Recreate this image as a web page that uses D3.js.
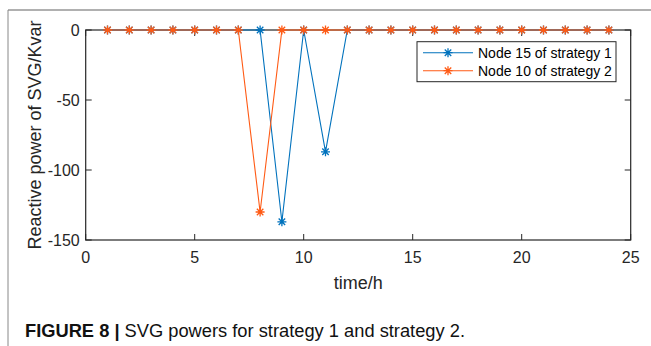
<!DOCTYPE html>
<html>
<head>
<meta charset="UTF-8">
<style>
    body { margin: 0; background: #fff; }
    svg { display: block; font-family: "Liberation Sans", Arial, sans-serif; }
</style>
</head>
<body>
<svg></svg>
<script src="https://d3js.org/d3.v7.min.js"></script>
<script>
    let width = 651, height = 346;

    // data
    let hours = d3.range(1, 25);
    let strategy1 = [0, 0, 0, 0, 0, 0, 0, 0, -137, 0, -87, 0, 0, 0, 0, 0, 0, 0, 0, 0, 0, 0, 0, 0];
    let strategy2 = [0, 0, 0, 0, 0, 0, 0, -130, 0, 0, 0, 0, 0, 0, 0, 0, 0, 0, 0, 0, 0, 0, 0, 0];
    let seriesNames = ["Node 15 of strategy 1", "Node 10 of strategy 2"];
    let colors = ["#0072BD", "#FF5A14"];
    let xTicks = [0, 5, 10, 15, 20, 25];
    let yTicks = [-150, -100, -50, 0];

    let svg = d3.select("svg")
        .attr("width", width)
        .attr("height", height);

    // figure frame
    svg.append("line").attr("x1", 8).attr("x2", width).attr("y1", 10).attr("y2", 10)
        .attr("stroke", "#b0b0b0").attr("stroke-width", 2);
    svg.append("line").attr("x1", 8).attr("x2", 8).attr("y1", 10).attr("y2", height)
        .attr("stroke", "#888").attr("stroke-width", 1);

    let m = { left: 85.7, right: 630.7, top: 30, bottom: 240 };

    let x = d3.scaleLinear().domain([0, 25]).range([m.left, m.right]);
    let y = d3.scaleLinear().domain([-150, 0]).range([m.bottom, m.top]);

    let axisColor = "#262626";

    // ticks (inside) on all four sides
    let g = svg.append("g");
    xTicks.forEach(t => {
        g.append("line").attr("x1", x(t)).attr("x2", x(t)).attr("y1", m.bottom).attr("y2", m.bottom - 6)
            .attr("stroke", axisColor);
        g.append("line").attr("x1", x(t)).attr("x2", x(t)).attr("y1", m.top).attr("y2", m.top + 6)
            .attr("stroke", axisColor);
        g.append("text").attr("x", x(t)).attr("y", m.bottom + 22.5)
            .attr("text-anchor", "middle").attr("font-size", 16).attr("fill", axisColor)
            .text(t);
    });
    yTicks.forEach(t => {
        g.append("line").attr("x1", m.left).attr("x2", m.left + 6).attr("y1", y(t)).attr("y2", y(t))
            .attr("stroke", axisColor);
        g.append("line").attr("x1", m.right).attr("x2", m.right - 6).attr("y1", y(t)).attr("y2", y(t))
            .attr("stroke", axisColor);
        g.append("text").attr("x", m.left - 6).attr("y", y(t) + 6)
            .attr("text-anchor", "end").attr("font-size", 16).attr("fill", axisColor)
            .text(t);
    });
    g.append("rect").attr("x", m.left).attr("y", m.top)
        .attr("width", m.right - m.left).attr("height", m.bottom - m.top)
        .attr("fill", "none").attr("stroke", axisColor).attr("stroke-width", 1.2);

    // axis labels
    svg.append("text").attr("x", (m.left + m.right) / 2).attr("y", 289)
        .attr("text-anchor", "middle").attr("font-size", 18).attr("fill", axisColor)
        .text("time/h");
    svg.append("text")
        .attr("transform", "translate(41," + ((m.top + m.bottom) / 2) + ") rotate(-90)")
        .attr("text-anchor", "middle").attr("font-size", 18).attr("fill", axisColor)
        .text("Reactive power of SVG/Kvar");

    // asterisk marker
    function star(sel, cx, cy, color) {
        let r = 4.5, d = r * 0.72;
        let p = "M" + (cx - r) + "," + cy + "H" + (cx + r)
            + "M" + cx + "," + (cy - r) + "V" + (cy + r)
            + "M" + (cx - d) + "," + (cy - d) + "L" + (cx + d) + "," + (cy + d)
            + "M" + (cx - d) + "," + (cy + d) + "L" + (cx + d) + "," + (cy - d);
        sel.append("path").attr("d", p).attr("stroke", color).attr("stroke-width", 1.3).attr("fill", "none");
    }

    let line = d3.line().x(d => x(d[0])).y(d => y(d[1]));
    [strategy1, strategy2].forEach((vals, i) => {
        let pts = hours.map((h, j) => [h, vals[j]]);
        let s = svg.append("g");
        s.append("path").datum(pts).attr("d", line)
            .attr("fill", "none").attr("stroke", colors[i]).attr("stroke-width", 1.1);
        pts.forEach(p => star(s, x(p[0]), y(p[1]), colors[i]));
    });

    // legend
    let lg = svg.append("g");
    lg.append("rect").attr("x", 417).attr("y", 41.7).attr("width", 199).attr("height", 40)
        .attr("fill", "#fff").attr("stroke", axisColor).attr("stroke-width", 1);
    seriesNames.forEach((n, i) => {
        let ly = 52.7 + i * 18;
        lg.append("line").attr("x1", 423).attr("x2", 473).attr("y1", ly).attr("y2", ly)
            .attr("stroke", colors[i]).attr("stroke-width", 1.1);
        star(lg, 448, ly, colors[i]);
        lg.append("text").attr("x", 478).attr("y", ly + 5)
            .attr("font-size", 14).attr("fill", "#000").text(n);
    });

    // caption
    let cap = svg.append("text").attr("x", 25).attr("y", 337).attr("font-size", 18.3).attr("fill", "#111");
    cap.append("tspan").attr("font-weight", "bold").text("FIGURE 8 | ");
    cap.append("tspan").text("SVG powers for strategy 1 and strategy 2.");
</script>
</body>
</html>
